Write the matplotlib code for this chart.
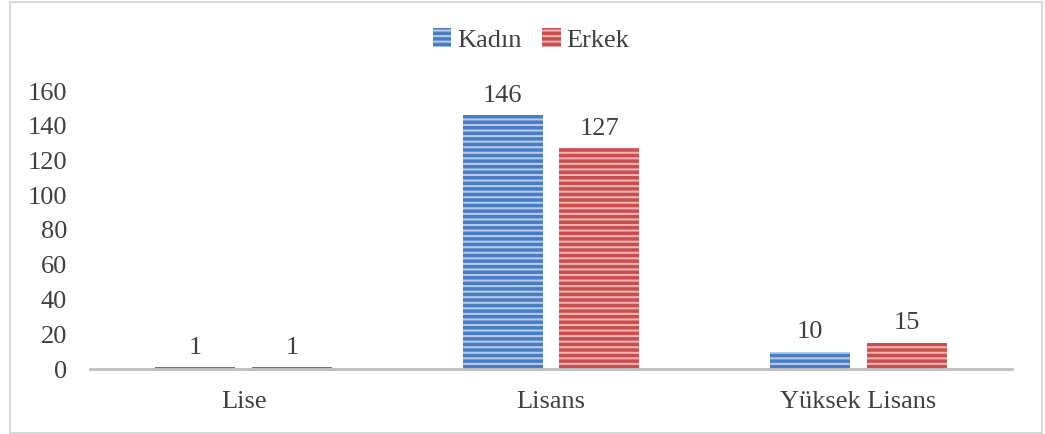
import matplotlib.pyplot as plt
import numpy as np
from matplotlib.patches import Rectangle

categories = ["Lise", "Lisans", "Yüksek Lisans"]
kadin = [1, 146, 10]
erkek = [1, 127, 15]
series_names = ["Kadın", "Erkek"]
yticks = [0, 20, 40, 60, 80, 100, 120, 140, 160]

plt.rcParams['font.family'] = ['Liberation Serif', 'DejaVu Serif']
plt.rcParams['hatch.linewidth'] = 1.5

FS = 19
fig = plt.figure(figsize=(10.45, 4.34), dpi=100)
ax = fig.add_axes([90/1045, 1-369/434, (1012-90)/1045, (369-91)/434])

x = np.arange(len(categories))
w = 0.26
gap = 0.055
blue = '#4A7CC2'
red = '#C94E4E'
b1 = ax.bar(x - (w+gap)/2, kadin, w, color=blue, edgecolor='#B4CBEC', linewidth=0,
            hatch='---', label=series_names[0])
b2 = ax.bar(x + (w+gap)/2, erkek, w, color=red, edgecolor='#EEB2B2', linewidth=0,
            hatch='---', label=series_names[1])

for bars, vals in ((b1, kadin), (b2, erkek)):
    for r, v in zip(bars, vals):
        ax.text(r.get_x() + r.get_width()/2, v + 5, str(v), ha='center', va='bottom',
                fontsize=FS, color='#404040')

ax.set_xlim(-0.5, 2.5)
ax.set_ylim(0, 160)
ax.set_yticks(yticks)
ax.set_xticks(x)
ax.set_xticklabels(categories)
ax.tick_params(axis='both', length=0, labelsize=FS, labelcolor='#404040')
ax.tick_params(axis='x', pad=16)
ax.tick_params(axis='y', pad=16.5)
for s in ['top', 'right', 'left']:
    ax.spines[s].set_visible(False)
ax.spines['bottom'].set_color('#BFBFBF')
ax.spines['bottom'].set_linewidth(2)

leg = fig.legend(handles=[b1, b2], labels=series_names, loc='center', bbox_to_anchor=(531/1045, 1-40/434),
                 ncol=2, frameon=False, fontsize=FS, handlelength=0.7, handleheight=0.7,
                 handletextpad=0.2, columnspacing=0.8, labelcolor='#404040')

fig.patches.append(Rectangle((10/1045, 1/434), (1042-10)/1045, (432-1)/434, transform=fig.transFigure,
                             fill=False, edgecolor='#D9D9D9', linewidth=1.5))

fig.savefig('out.png', dpi=100)
